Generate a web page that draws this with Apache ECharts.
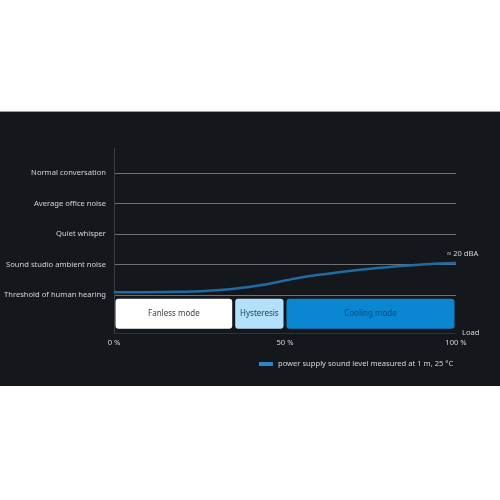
<!DOCTYPE html>
<html>
<head>
<meta charset="utf-8">
<script src="https://cdn.jsdelivr.net/npm/echarts@6/dist/echarts.min.js"></script>
<style>
  html, body { margin: 0; padding: 0; background: #ffffff; }
  #panel { position: absolute; left: 0; top: 111px; width: 500px; height: 274px; background: #14181c; border-top: 1px solid #9a9c9e; }
  #chart { width: 500px; height: 273px; }
</style>
</head>
<body>
<div id="panel"><div id="chart"></div></div>
<script>
// hearing levels shown on the y axis, bottom to top
var level_names = ['Threshold of human hearing', 'Sound studio ambient noise', 'Quiet whisper', 'Average office noise', 'Normal conversation']
var level_ticks = [0, 1, 2, 3, 4]

// load in %, sound level in "level" units
var load = [0, 10, 20, 30, 40, 45, 50, 55, 60, 70, 80, 90, 100]
var sound = [0.09, 0.09, 0.1, 0.15, 0.27, 0.36, 0.47, 0.58, 0.66, 0.8, 0.91, 1.0, 1.05]
var end_text = '≈ 20 dBA'
var series_name = 'power supply sound level measured at 1 m, 25 °C'

var load_ticks = [0, 50, 100]

// operating modes along the load axis
var mode_names = ['Fanless mode', 'Hysteresis', 'Cooling mode']
var mode_from = [0, 35, 50]
var mode_to = [35, 50, 100]
var mode_fill = ['#ffffff', '#b3e0fb', '#0b86d1']
var mode_text = ['#3a3d40', '#1d3c57', '#0c4c7c']

var txt = '#d4d6d8'
var font = 'Noto Sans'
var fs = 7.6

var chart = echarts.init(document.getElementById('chart'));

var modes = mode_names.map(function(n, i) {
	return [mode_from[i], mode_to[i], i]
})

function renderMode(params, api) {
	var i = api.value(2)
	var a = api.coord([api.value(0), -0.13])
	var b = api.coord([api.value(1), -1.11])
	var x = a[0] + 1.5, w = b[0] - a[0] - 3
	return {
		type: 'group',
		children: [{
			type: 'rect',
			shape: { x: x, y: a[1], width: w, height: b[1] - a[1], r: 3 },
			style: { fill: mode_fill[i] }
		}, {
			type: 'text',
			style: {
				text: mode_names[i], x: x + w / 2, y: (a[1] + b[1]) / 2,
				align: 'center', verticalAlign: 'middle',
				fill: mode_text[i], fontSize: 8, fontFamily: font
			}
		}]
	}
}

var option = {
	backgroundColor: '#14181c',
	textStyle: { fontFamily: font },
	grid: { left: 114, right: 44, top: 36, bottom: 52, containLabel: false, outerBoundsMode: 'none' },
	legend: {
		left: 259,
		top: 248,
		padding: 0,
		icon: 'rect',
		itemWidth: 14,
		itemHeight: 4,
		itemGap: 4,
		data: [series_name],
		textStyle: { color: txt, fontSize: fs, fontFamily: font }
	},
	xAxis: {
		type: 'value',
		min: 0,
		max: 100,
		name: 'Load',
		nameLocation: 'end',
		nameGap: 6,
		nameMoveOverlap: false,
		nameTextStyle: { color: txt, fontSize: fs, verticalAlign: 'middle' },
		axisLine: { show: true, onZero: false, lineStyle: { color: '#2e3236' } },
		axisTick: { show: false, customValues: load_ticks },
		axisLabel: { customValues: load_ticks, formatter: '{value} %', color: txt, fontSize: fs, margin: 6 },
		splitLine: { show: false }
	},
	yAxis: {
		type: 'value',
		min: -1.25,
		max: 4.82,
		axisLine: { show: true, lineStyle: { color: '#3a3e42' } },
		axisTick: { show: false, customValues: level_ticks },
		axisLabel: {
			customValues: level_ticks,
			formatter: function(v) { return level_names[v] },
			color: txt, fontSize: fs, margin: 8
		},
		splitLine: { show: true, lineStyle: { color: '#6e7174', width: 1 } }
	},
	series: [{
		type: 'custom',
		renderItem: renderMode,
		data: modes,
		silent: true,
		z: 1
	}, {
		name: series_name,
		type: 'line',
		data: load.map(function(x, i) { return [x, sound[i]] }),
		smooth: true,
		showSymbol: false,
		color: '#2a86c6',
		lineStyle: { width: 2.5, color: '#1f6ca3' },
		endLabel: {
			show: true,
			formatter: end_text,
			color: txt,
			fontSize: fs,
			distance: 0,
			offset: [-9, -9]
		},
		z: 3
	}]
};

chart.setOption(option);
</script>
</body>
</html>
